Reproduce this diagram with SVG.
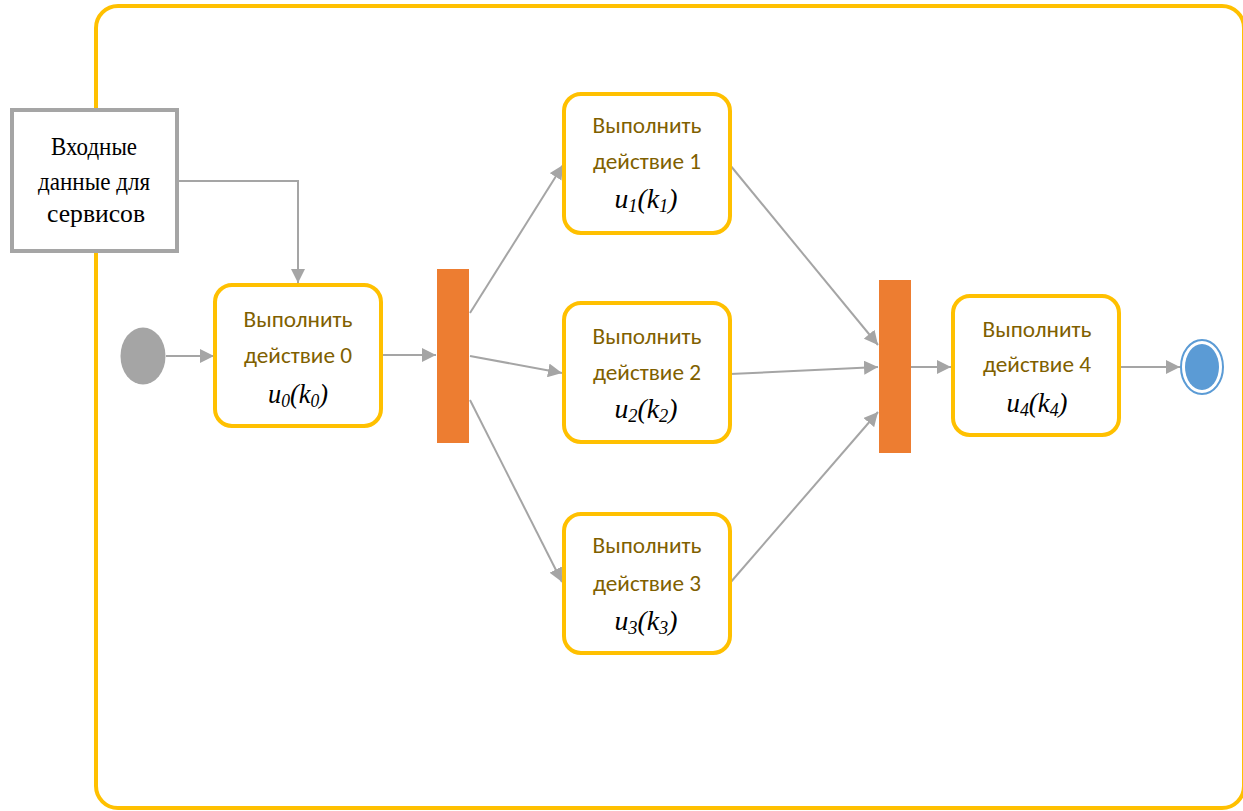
<svg xmlns="http://www.w3.org/2000/svg" width="1243" height="811" viewBox="0 0 1243 811">
<style>
.act{fill:#fff;stroke:#FFC000;stroke-width:4}
.bar{fill:#ED7D31}
.lbl{font-family:Carlito,Lato,"Noto Sans",sans-serif;font-size:23px;fill:#7F6000;text-anchor:middle}
.math{font-family:"Liberation Serif",serif;font-style:italic;font-size:27px;fill:#000;text-anchor:middle}
.sub{font-size:18px}
.in{font-family:"Liberation Serif",serif;font-size:25px;fill:#000;text-anchor:middle}
.con{fill:none;stroke:#A5A5A5;stroke-width:2;marker-end:url(#ah)}
</style>
<defs>
<marker id="ah" viewBox="0 0 10 10" refX="10" refY="5" markerWidth="7" markerHeight="7" orient="auto" markerUnits="strokeWidth">
<path d="M0,0 L10,5 L0,10 Z" fill="#A5A5A5"/>
</marker>
</defs>
<rect width="1243" height="811" fill="#fff"/>
<g id="frame"><rect x="96" y="6" width="1148" height="802" rx="22" fill="none" stroke="#FFC000" stroke-width="4"/></g>
<g id="connectors">
<path class="con" d="M178,181 H298 V283"/>
<path class="con" d="M166,356 H214"/>
<path class="con" d="M381,355 H436"/>
<path class="con" d="M470,313 L563,165"/>
<path class="con" d="M470,356 L562,373"/>
<path class="con" d="M470,400 L562,582"/>
<path class="con" d="M730,165 L878,345"/>
<path class="con" d="M730,374 L878,367"/>
<path class="con" d="M730,583 L878,412"/>
<path class="con" d="M911,367 H951"/>
<path class="con" d="M1119,367 H1180"/>
</g>
<g id="input"><rect x="12" y="110" width="165" height="141" fill="#fff" stroke="#A5A5A5" stroke-width="4"/>
<text class="in" x="94" y="155" textLength="86" lengthAdjust="spacingAndGlyphs">Входные</text>
<text class="in" x="94" y="190" textLength="112" lengthAdjust="spacingAndGlyphs">данные для</text>
<text class="in" x="96" y="222" textLength="98" lengthAdjust="spacingAndGlyphs">сервисов</text></g>
<g id="start"><ellipse cx="143" cy="356" rx="22.5" ry="28.5" fill="#A5A5A5"/></g>
<g id="a0"><rect class="act" x="215" y="285" width="166" height="141" rx="17"/>
<text class="lbl" x="298" y="327" textLength="109" lengthAdjust="spacingAndGlyphs">Выполнить</text>
<text class="lbl" x="298" y="363" textLength="108" lengthAdjust="spacingAndGlyphs">действие 0</text>
<text class="math" x="298" y="403" textLength="60" lengthAdjust="spacingAndGlyphs">u<tspan class="sub" dy="4">0</tspan><tspan dy="-4">(k</tspan><tspan class="sub" dy="4">0</tspan><tspan dy="-4">)</tspan></text></g>
<g id="fork1"><rect class="bar" x="437" y="269" width="32" height="174"/></g>
<g id="a1"><rect class="act" x="564" y="94" width="166" height="139" rx="17"/>
<text class="lbl" x="647" y="133" textLength="109" lengthAdjust="spacingAndGlyphs">Выполнить</text>
<text class="lbl" x="647" y="169" textLength="108" lengthAdjust="spacingAndGlyphs">действие 1</text>
<text class="math" x="646" y="208" textLength="63" lengthAdjust="spacingAndGlyphs">u<tspan class="sub" dy="4">1</tspan><tspan dy="-4">(k</tspan><tspan class="sub" dy="4">1</tspan><tspan dy="-4">)</tspan></text></g>
<g id="a2"><rect class="act" x="564" y="303" width="166" height="139" rx="17"/>
<text class="lbl" x="647" y="344" textLength="109" lengthAdjust="spacingAndGlyphs">Выполнить</text>
<text class="lbl" x="647" y="380" textLength="108" lengthAdjust="spacingAndGlyphs">действие 2</text>
<text class="math" x="646" y="418" textLength="63" lengthAdjust="spacingAndGlyphs">u<tspan class="sub" dy="4">2</tspan><tspan dy="-4">(k</tspan><tspan class="sub" dy="4">2</tspan><tspan dy="-4">)</tspan></text></g>
<g id="a3"><rect class="act" x="564" y="514" width="166" height="139" rx="17"/>
<text class="lbl" x="647" y="553" textLength="109" lengthAdjust="spacingAndGlyphs">Выполнить</text>
<text class="lbl" x="647" y="591" textLength="108" lengthAdjust="spacingAndGlyphs">действие 3</text>
<text class="math" x="646" y="630" textLength="63" lengthAdjust="spacingAndGlyphs">u<tspan class="sub" dy="4">3</tspan><tspan dy="-4">(k</tspan><tspan class="sub" dy="4">3</tspan><tspan dy="-4">)</tspan></text></g>
<g id="fork2"><rect class="bar" x="879" y="280" width="32" height="173"/></g>
<g id="a4"><rect class="act" x="953" y="296" width="166" height="139" rx="17"/>
<text class="lbl" x="1037" y="337" textLength="109" lengthAdjust="spacingAndGlyphs">Выполнить</text>
<text class="lbl" x="1037" y="372" textLength="108" lengthAdjust="spacingAndGlyphs">действие 4</text>
<text class="math" x="1037" y="412" textLength="61" lengthAdjust="spacingAndGlyphs">u<tspan class="sub" dy="4">4</tspan><tspan dy="-4">(k</tspan><tspan class="sub" dy="4">4</tspan><tspan dy="-4">)</tspan></text></g>
<g id="end"><ellipse cx="1202" cy="367" rx="21" ry="27" fill="#fff" stroke="#5B9BD5" stroke-width="2"/><ellipse cx="1202" cy="367" rx="17" ry="23" fill="#5B9BD5"/></g>
</svg>
